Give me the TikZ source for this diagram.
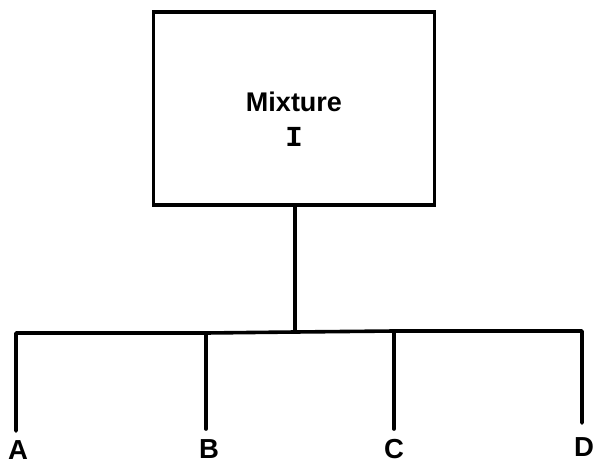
\documentclass[tikz,border=0pt]{standalone}
\usepackage{fontspec}
\setmainfont{Liberation Sans}
\newfontfamily\typedfont{Liberation Mono}
\begin{document}
\begin{tikzpicture}[x=1pt,y=-1pt,
  wire/.style={line width=3.6pt,line cap=round,line join=round},
  boxframe/.style={draw,line width=3.6pt,minimum width=281pt,minimum height=193pt,inner sep=0pt},
  leaf/.style={font=\fontsize{27.5}{27.5}\selectfont\bfseries,inner sep=0pt}]
  \useasboundingbox (0,0) rectangle (596,468);
  % the mixture box
  \node[boxframe] (mix) at (294,108.5) {};
  \node[font=\fontsize{27}{27}\selectfont\bfseries,inner sep=0pt] (mixname) at (294,102) {Mixture};
  \node[font=\typedfont\fontsize{29}{29}\selectfont\bfseries,inner sep=0pt] (mixnum) at (294,137) {I};
  % branch points on the bar
  \coordinate (hub) at (295,332);
  \coordinate (ja) at (16,333);
  \coordinate (jb) at (206,333);
  \coordinate (jc) at (394,331);
  \coordinate (jd) at (582,331);
  % ends of the drops
  \coordinate (ea) at (16,431);
  \coordinate (eb) at (206,429);
  \coordinate (ec) at (394,429);
  \coordinate (ed) at (582,423);
  % labels
  \node[leaf] (la) at (18,450) {A};
  \node[leaf] (lb) at (209,449) {B};
  \node[leaf] (lc) at (394,449) {C};
  \node[leaf] (ld) at (584,447) {D};
  % connectors
  \draw[wire] (mix.south -| hub) -- (hub);
  \draw[wire] (ea) -- (ja) -- (jb) -- (hub) -- (jc) -- (jd) -- (ed);
  \draw[wire] (jb) -- (eb);
  \draw[wire] (jc) -- (ec);
\end{tikzpicture}
\end{document}
